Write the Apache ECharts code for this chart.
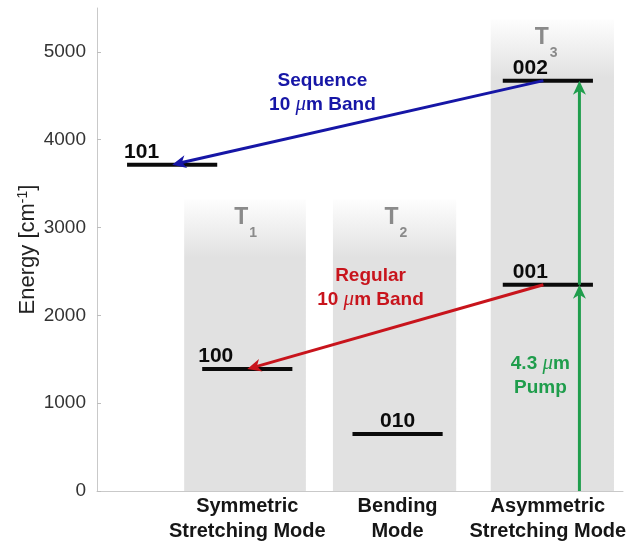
<!DOCTYPE html>
<html>
<head>
<meta charset="utf-8">
<script src="https://cdn.jsdelivr.net/npm/echarts@6/dist/echarts.min.js"></script>
<style>
  html, body { margin: 0; padding: 0; background: #fff; }
  #chart { width: 631px; height: 544px; }
</style>
</head>
<body>
<div id="chart"></div>
<script>
// CO2 vibrational modes, placed at x = 1, 2, 3
const modeNames = ['Symmetric\nStretching Mode', 'Bending\nMode', 'Asymmetric\nStretching Mode'];
const modeSubscripts = ['1', '2', '3'];

// Shaded column for each mode (x extent and top energy, cm^-1)
const columnLeft = [0.58, 1.57, 2.62];
const columnRight = [1.39, 2.39, 3.44];
const columnTop = [3320, 3320, 5370];

// Vibrational energy levels (cm^-1)
const levelNames = ['101', '100', '010', '001', '002'];
const levelX = [0.5, 1, 2, 3, 3];
const levelEnergy = [3715, 1388, 650, 2349, 4673];

// Transitions between levels
const transitionFromX = [2.97, 2.97, 3.21, 3.21];
const transitionFromE = [4673, 2349, 0, 2349];
const transitionToX = [0.5, 1.0, 3.21, 3.21];
const transitionToE = [3715, 1388, 2349, 4673];
const transitionKind = ['sequence', 'regular', 'pump', 'pump'];

// Transition annotations
const noteX = [1.5, 1.82, 2.95];
const noteE = [4540, 2313, 1310];
const noteKind = ['sequence', 'regular', 'pump'];
const noteLines = [['Sequence', '10 μm Band'], ['Regular', '10 μm Band'], ['4.3 μm', 'Pump']];

// Y axis ticks
const energyTicks = [0, 1000, 2000, 3000, 4000, 5000];

const SANS = '"Liberation Sans", Arial, Helvetica, sans-serif';
const kindColor = { sequence: '#1616a6', regular: '#c8141c', pump: '#1f9d4c' };
// label offset from the left end of a level line; missing = centred
const labelShift = { '101': -3, '100': -4, '001': 10, '002': 10 };

const chart = echarts.init(document.getElementById('chart'), null, { renderer: 'canvas' });

function columnItem(params, api) {
  const i = params.dataIndex;
  const tl = api.coord([api.value(0), api.value(2)]);
  const br = api.coord([api.value(1), 0]);
  const h = br[1] - tl[1];
  const fade = Math.min(0.9, 58 / h);
  const cx = api.coord([i + 1, 0])[0];
  const tTop = tl[1] + 7;
  return {
    type: 'group',
    children: [
      {
        type: 'rect',
        shape: { x: tl[0], y: tl[1], width: br[0] - tl[0], height: h },
        style: {
          fill: new echarts.graphic.LinearGradient(0, 0, 0, 1, [
            { offset: 0, color: 'rgba(225,225,225,0.05)' },
            { offset: fade, color: '#e1e1e1' },
            { offset: 1, color: '#e1e1e1' }
          ])
        }
      },
      {
        type: 'text',
        style: {
          text: 'T', x: cx - 13, y: tTop, align: 'left', verticalAlign: 'top',
          fontSize: 23, fontWeight: 'bold', fontFamily: SANS, fill: '#8a8a8a'
        }
      },
      {
        type: 'text',
        style: {
          text: modeSubscripts[i], x: cx + 2, y: tTop + 20, align: 'left', verticalAlign: 'top',
          fontSize: 14, fontWeight: 'bold', fontFamily: SANS, fill: '#8a8a8a'
        }
      }
    ]
  };
}

function levelItem(params, api) {
  const i = params.dataIndex;
  const x = api.value(0), e = api.value(1);
  const a = api.coord([x - 0.3, e]);
  const b = api.coord([x + 0.3, e]);
  const name = levelNames[i];
  const dx = labelShift[name];
  const centred = dx === undefined;
  return {
    type: 'group',
    children: [
      { type: 'line', shape: { x1: a[0], y1: a[1], x2: b[0], y2: b[1] }, style: { stroke: '#0b0b0b', lineWidth: 4 } },
      {
        type: 'text',
        style: {
          text: name, x: centred ? (a[0] + b[0]) / 2 : a[0] + dx, y: a[1] - 2,
          align: centred ? 'center' : 'left', verticalAlign: 'bottom',
          fontSize: 21, fontWeight: 'bold', fontFamily: SANS, fill: '#0b0b0b'
        }
      }
    ]
  };
}

function arrowItem(params, api) {
  const i = params.dataIndex;
  const p1 = api.coord([api.value(0), api.value(1)]);
  const p2 = api.coord([api.value(2), api.value(3)]);
  const color = kindColor[transitionKind[i]];
  const dx = p2[0] - p1[0], dy = p2[1] - p1[1];
  const len = Math.hypot(dx, dy);
  const ux = dx / len, uy = dy / len, px = -uy, py = ux;
  const L = 14, W = 6.5, N = 10;
  const base = [p2[0] - ux * L, p2[1] - uy * L];
  const notch = [p2[0] - ux * N, p2[1] - uy * N];
  return {
    type: 'group',
    children: [
      { type: 'line', shape: { x1: p1[0], y1: p1[1], x2: notch[0], y2: notch[1] }, style: { stroke: color, lineWidth: 3 } },
      {
        type: 'polygon',
        shape: { points: [p2, [base[0] + px * W, base[1] + py * W], notch, [base[0] - px * W, base[1] - py * W]] },
        style: { fill: color }
      }
    ]
  };
}

function noteItem(params, api) {
  const i = params.dataIndex;
  const p = api.coord([api.value(0), api.value(1)]);
  const text = noteLines[i].map(s => s.replace('μ', '{mu|μ}')).join('\n');
  return {
    type: 'text',
    style: {
      text: text, x: p[0], y: p[1], align: 'center', verticalAlign: 'middle',
      fontSize: 19, fontWeight: 'bold', fontFamily: SANS, lineHeight: 24,
      fill: kindColor[noteKind[i]],
      rich: {
        mu: { fontSize: 21, fontStyle: 'italic', fontWeight: 'normal', fontFamily: '"Liberation Serif", "DejaVu Serif", serif', fill: kindColor[noteKind[i]], lineHeight: 24 }
      }
    }
  };
}

const option = {
  backgroundColor: '#ffffff',
  animation: false,
  grid: { left: 97, right: 8, top: 8, bottom: 51, containLabel: false },
  xAxis: {
    type: 'value', min: 0, max: 3.5, interval: 1,
    splitLine: { show: false },
    axisLine: { lineStyle: { color: '#c9c9c9', width: 1 } },
    axisTick: { inside: true, length: 4, lineStyle: { color: '#bdbdbd' }, customValues: [1, 2, 3] },
    axisLabel: {
      customValues: [1, 2, 3],
      margin: 3,
      fontSize: 20, fontWeight: 'bold', fontFamily: SANS, color: '#161616', lineHeight: 25,
      formatter: v => (Number.isInteger(v) && v >= 1 && v <= 3) ? modeNames[v - 1] : ''
    }
  },
  yAxis: {
    type: 'value', min: 0, max: 5500, interval: 1000,
    name: 'Energy [cm{sup|-1}]',
    nameLocation: 'middle', nameGap: 58, nameMoveOverlap: false,
    nameTextStyle: {
      fontSize: 22, fontFamily: SANS, color: '#222', lineHeight: 23,
      rich: { sup: { fontSize: 14, fontFamily: SANS, color: '#222', verticalAlign: 'top', lineHeight: 23 } }
    },
    splitLine: { show: false },
    axisLine: { show: true, lineStyle: { color: '#c9c9c9', width: 1 } },
    axisTick: { show: true, inside: true, length: 4, lineStyle: { color: '#bdbdbd' }, customValues: energyTicks },
    axisLabel: {
      customValues: energyTicks,
      margin: 11, fontSize: 19, fontFamily: SANS, color: '#333',
      formatter: v => (v % 1000 === 0 ? String(v) : '')
    }
  },
  series: [
    {
      type: 'custom', name: 'modes', z: 1, silent: true, clip: false,
      renderItem: columnItem,
      encode: { x: [0, 1], y: 2 },
      data: columnLeft.map((l, i) => [l, columnRight[i], columnTop[i]])
    },
    {
      type: 'custom', name: 'levels', z: 3, silent: true, clip: false,
      renderItem: levelItem,
      encode: { x: 0, y: 1 },
      data: levelX.map((x, i) => [x, levelEnergy[i]])
    },
    {
      type: 'custom', name: 'transitions', z: 4, silent: true, clip: false,
      renderItem: arrowItem,
      encode: { x: [0, 2], y: [1, 3] },
      data: transitionFromX.map((x, i) => [x, transitionFromE[i], transitionToX[i], transitionToE[i]])
    },
    {
      type: 'custom', name: 'notes', z: 5, silent: true, clip: false,
      renderItem: noteItem,
      encode: { x: 0, y: 1 },
      data: noteX.map((x, i) => [x, noteE[i]])
    }
  ]
};

chart.setOption(option);
</script>
</body>
</html>
